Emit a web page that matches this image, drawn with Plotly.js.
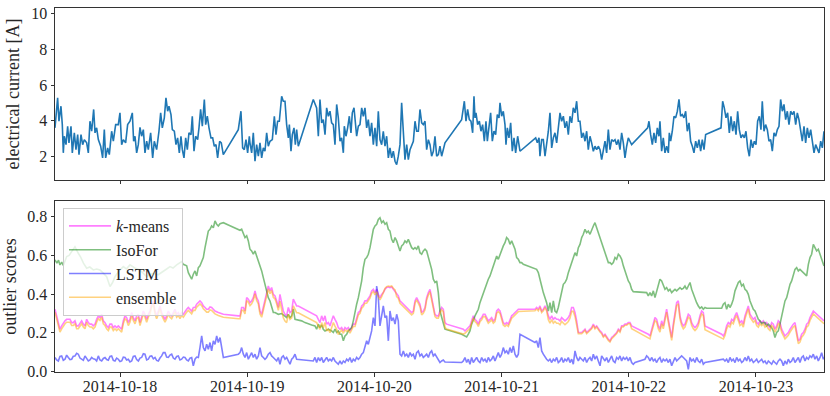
<!DOCTYPE html>
<html>
<head>
<meta charset="utf-8">
<script src="https://cdn.plot.ly/plotly-3.0.1.min.js"></script>
<style>
  html, body { margin: 0; padding: 0; background: #fff; }
  #unique_plot { width: 830px; height: 396px; }
</style>
</head>
<body>
<div id="unique_plot"></div>
<script>
/*
 * ~~~~~~~~~~~~~~~~~~~~~~~~~~~~~~~~~~~~~~~~~~~~~~~~
 * Data (times are hours after 2014-10-17 00:00)
 * ~~~~~~~~~~~~~~~~~~~~~~~~~~~~~~~~~~~~~~~~~~~~~~~~
 */

const currentHours = [
  11.73,12.23,12.48,12.86,13.11,13.30,13.49,13.81,14.12,14.37,
  14.75,15.00,15.38,15.69,16.01,16.26,16.64,16.95,17.26,17.71,
  18.02,18.33,18.65,19.03,19.28,19.59,19.91,20.35,20.72,21.04,
  21.29,21.67,21.98,22.42,22.74,23.18,23.68,23.99,24.31,24.62,
  25.06,25.44,25.88,26.32,26.57,26.83,27.14,27.45,27.77,28.08,
  28.40,28.71,29.03,29.34,29.78,30.16,30.47,30.91,31.35,31.67,
  31.98,32.36,32.67,32.99,33.24,33.62,33.87,34.25,34.56,34.87,
  35.19,35.50,35.76,36.07,36.39,36.70,37.01,37.39,37.64,37.96,
  38.27,38.65,38.90,39.21,39.53,39.91,40.16,40.47,40.79,41.16,
  41.48,41.79,42.11,42.42,42.80,43.11,43.49,46.32,46.82,47.14,
  47.45,47.77,48.08,48.40,48.52,48.84,49.15,49.47,49.78,50.10,
  50.41,50.73,51.04,51.35,51.67,51.98,52.30,52.74,53.12,53.43,
  53.74,54.06,54.50,54.81,55.13,55.44,55.76,55.95,56.26,56.51,
  56.83,57.08,57.33,57.64,60.47,61.10,61.42,61.73,62.05,62.36,
  62.68,62.99,63.31,63.62,63.93,64.25,64.56,64.88,65.19,65.51,
  65.82,66.14,66.32,66.64,66.95,67.27,67.58,67.83,68.15,68.34,
  68.65,68.97,69.28,69.60,69.91,70.22,70.54,70.85,71.17,71.48,
  71.80,72.11,72.43,72.74,73.05,73.37,73.68,74.00,74.31,74.63,
  74.94,75.26,75.57,75.89,76.20,76.51,76.83,77.14,77.46,77.77,
  78.09,78.40,78.72,79.03,79.35,79.66,79.97,80.29,80.60,80.92,
  81.23,81.55,81.86,82.18,82.49,82.80,83.12,83.43,83.75,84.06,
  84.37,84.69,85.00,85.32,88.46,88.78,88.97,89.28,89.59,89.91,
  90.22,90.54,90.79,90.98,91.17,91.48,91.80,92.11,92.42,92.74,
  93.05,93.31,93.62,93.93,94.25,94.56,94.88,95.19,95.51,95.70,
  96.01,96.32,96.64,96.83,97.08,97.39,97.71,98.02,98.34,98.65,
  99.03,99.47,102.43,102.74,103.06,103.24,103.56,103.87,104.19,104.50,
  104.82,105.13,105.45,105.76,106.07,106.39,106.70,107.02,107.33,107.65,
  107.96,108.28,108.59,108.90,109.22,109.53,109.85,110.16,110.48,110.79,
  111.11,111.42,111.74,112.05,112.36,112.68,112.99,113.31,113.62,113.94,
  114.25,114.57,114.88,115.20,115.51,115.82,116.14,116.45,116.77,117.08,
  117.40,117.71,118.03,118.34,118.65,118.97,119.28,119.60,119.91,120.22,
  120.54,123.56,123.81,124.12,124.44,124.75,125.07,125.38,125.70,125.88,
  126.20,126.51,126.83,127.14,127.46,127.65,127.90,128.21,128.53,128.84,
  129.16,129.47,129.78,130.10,130.41,130.73,131.04,131.36,131.67,131.99,
  132.30,132.62,132.93,133.24,133.56,133.87,134.19,134.50,137.40,137.71,
  138.02,138.34,138.65,138.97,139.28,139.60,139.91,140.23,140.54,140.85,
  141.17,141.48,141.80,142.11,142.43,142.74,143.06,143.37,143.69,144.00,
  144.31,144.63,144.94,145.19,145.51,145.82,146.14,146.45,146.77,147.08,
  147.40,147.71,148.03,148.34,148.65,148.97,149.28,149.60,149.91,150.23,
  150.54,150.86,151.17,151.49,151.80,152.11,152.43,152.74,153.06,153.37,
  153.69,154.00,154.32,154.63,154.95,155.26,155.58,155.89,156.21,156.52,
  156.83
];

const currentAmps = [
  3.61,5.29,3.98,4.82,3.79,2.21,3.14,2.67,3.70,2.77,
  3.70,2.21,3.33,2.39,3.23,2.11,3.23,2.67,2.95,2.77,
  2.21,3.98,3.42,4.64,3.33,3.61,2.95,2.58,1.93,3.51,
  1.93,2.49,2.11,3.42,2.86,3.79,3.79,4.45,2.67,2.95,
  2.77,3.79,3.98,4.45,2.86,3.14,2.21,2.67,3.64,3.14,
  3.51,2.21,2.86,2.39,3.33,1.93,2.86,2.39,3.42,4.45,
  3.61,4.17,5.29,4.54,4.82,4.35,3.51,3.42,2.67,3.05,
  2.21,3.14,2.39,1.93,3.05,2.39,3.33,3.23,4.26,2.30,
  3.14,2.95,3.61,4.64,3.70,5.20,3.79,4.26,3.61,3.05,
  3.05,2.58,2.67,1.93,2.86,2.77,2.11,3.51,4.54,2.49,
  2.39,2.95,2.21,3.14,2.77,2.21,3.33,1.74,2.67,2.02,
  2.77,1.93,2.49,2.30,3.33,2.58,2.86,2.95,4.26,3.23,
  3.98,3.98,5.38,5.10,5.10,3.79,3.05,3.79,2.30,3.23,
  3.61,2.67,3.51,2.58,5.20,4.73,3.14,5.20,3.89,4.07,
  3.23,4.73,4.26,4.54,3.89,3.79,2.67,4.92,4.17,2.86,
  3.05,2.21,3.70,3.14,3.61,4.26,3.33,4.45,4.73,4.26,
  3.14,3.70,3.79,4.73,4.26,4.73,3.61,4.07,3.14,3.89,
  2.67,3.61,2.58,4.54,2.95,2.67,3.42,2.58,3.14,1.93,
  2.49,1.93,2.30,1.74,1.55,2.02,2.67,5.01,3.05,1.83,
  2.67,1.83,2.39,2.67,2.86,3.98,3.42,3.42,4.64,3.89,
  3.79,3.98,2.39,2.95,2.67,2.02,2.30,3.14,2.02,2.11,
  2.58,2.02,2.39,2.77,4.07,4.73,5.10,3.98,4.64,4.07,
  3.98,3.33,5.38,4.17,4.45,3.79,3.98,3.42,3.79,2.86,
  3.98,2.86,3.51,4.45,2.86,3.42,3.23,4.35,4.17,5.01,
  4.26,4.54,3.79,2.67,3.61,3.05,3.89,2.30,3.05,2.21,
  3.14,2.30,3.05,2.77,3.05,2.02,2.95,2.95,2.02,2.58,
  3.42,4.45,2.49,3.05,3.33,2.77,3.51,4.45,3.98,4.26,
  3.61,3.98,3.23,4.26,3.89,4.73,4.45,5.10,3.98,3.98,
  3.05,3.33,2.86,3.42,2.39,3.14,2.77,2.30,2.58,2.39,
  2.58,2.39,1.83,2.49,2.86,2.21,3.51,2.39,2.95,2.86,
  2.95,2.67,2.95,2.39,3.33,2.77,1.93,2.58,3.05,2.86,
  2.67,3.61,3.98,3.23,2.67,3.33,2.77,3.61,3.14,3.98,
  2.30,3.05,2.21,2.58,2.21,3.33,2.86,3.42,4.26,4.17,
  4.54,5.20,4.26,4.35,4.17,4.54,3.42,3.89,2.86,2.58,
  2.21,2.86,2.49,2.95,2.30,2.95,2.39,3.23,3.61,5.10,
  4.73,4.17,4.45,3.33,4.26,3.42,3.98,3.23,4.54,3.51,
  3.05,3.23,3.05,3.42,2.49,2.02,2.95,2.49,2.86,2.67,
  3.98,4.26,3.51,5.10,3.42,3.79,3.51,2.86,2.95,2.30,
  3.33,3.14,3.51,3.70,5.20,4.54,4.92,4.07,4.54,3.79,
  4.54,4.35,4.54,3.79,4.45,4.07,3.33,2.86,3.70,2.77,
  3.61,3.05,3.51,2.77,2.21,2.67,2.39,2.21,2.86,2.49,
  3.42
];

const kmeansHours = [
  11.73,12.04,12.36,12.67,12.99,13.30,13.62,13.93,14.25,14.56,
  14.88,15.19,15.50,15.82,16.13,16.45,16.76,17.08,17.39,17.71,
  18.02,18.33,18.65,18.96,19.28,19.59,19.91,20.22,20.54,20.85,
  21.17,21.48,21.79,22.11,22.42,22.74,23.05,23.37,23.68,24.00,
  24.31,24.62,24.94,25.25,25.57,25.88,26.20,26.51,26.83,27.14,
  27.46,27.77,28.08,28.40,28.71,29.03,29.34,29.66,29.97,30.29,
  30.60,30.91,31.23,31.54,31.86,32.17,32.49,32.80,33.12,33.43,
  33.75,34.06,34.37,34.69,35.00,35.32,35.63,35.95,36.26,36.58,
  36.89,37.20,37.52,37.83,38.15,38.46,38.78,39.09,39.41,39.72,
  40.04,40.35,40.66,40.98,41.29,41.61,41.92,42.55,43.18,43.50,
  46.33,46.64,46.95,47.27,47.58,47.90,48.21,48.53,48.84,49.15,
  49.47,49.78,50.10,50.41,50.73,51.04,51.35,51.67,51.98,52.30,
  52.61,52.93,53.24,53.56,53.87,54.18,54.50,54.81,55.13,55.44,
  55.76,56.07,56.39,56.70,57.02,57.33,57.64,61.10,61.42,61.73,
  62.05,62.36,62.68,62.99,63.31,63.62,63.93,64.25,64.56,64.88,
  65.19,65.51,65.82,66.14,66.45,66.77,67.08,67.39,67.71,68.02,
  68.34,68.65,68.97,69.28,69.60,69.91,70.22,70.54,70.85,71.17,
  71.48,71.80,72.11,72.43,72.74,73.05,73.37,73.68,74.00,74.31,
  74.63,74.94,75.26,75.57,75.89,76.20,76.51,76.83,77.14,77.46,
  77.77,78.09,78.40,78.72,79.03,79.35,79.66,79.97,80.29,80.60,
  80.92,81.23,81.55,81.86,82.18,82.49,82.80,83.12,83.43,83.75,
  84.06,84.37,84.69,85.00,85.32,85.63,88.78,89.09,89.41,89.72,
  90.03,90.35,90.66,90.98,91.29,91.61,91.92,92.24,92.55,92.87,
  93.18,93.49,93.81,94.12,94.44,94.75,95.07,95.38,95.70,96.01,
  96.32,96.64,96.95,97.27,97.58,97.90,98.21,98.53,98.84,99.16,
  102.30,102.61,102.93,103.24,103.56,103.87,104.19,104.50,104.82,105.13,
  105.45,105.76,106.07,106.39,106.70,107.02,107.33,107.65,107.96,108.28,
  108.59,108.90,109.22,109.53,109.85,110.16,110.48,110.79,111.11,111.42,
  111.74,112.05,112.36,112.68,112.99,113.31,113.62,113.94,114.25,114.57,
  114.88,115.20,115.51,115.82,116.14,116.45,116.77,117.08,117.40,117.71,
  118.03,118.34,118.65,118.97,119.28,119.60,119.91,120.23,120.54,123.68,
  124.00,124.31,124.63,124.94,125.26,125.57,125.88,126.20,126.51,126.83,
  127.14,127.46,127.77,128.09,128.40,128.72,129.03,129.34,129.66,129.97,
  130.29,130.60,130.92,131.23,131.55,131.86,132.18,132.49,132.80,133.12,
  133.43,133.75,134.06,134.38,137.52,137.84,138.15,138.46,138.78,139.09,
  139.41,139.72,140.04,140.35,140.67,140.98,141.30,141.61,141.92,142.24,
  142.55,142.87,143.18,143.50,143.81,144.13,144.44,144.75,145.07,145.38,
  145.70,146.01,146.33,146.64,146.96,147.27,147.58,147.90,148.21,148.53,
  148.84,149.16,149.47,149.79,150.10,150.42,150.73,151.04,151.36,151.67,
  151.99,152.30,152.62,152.93,153.25,153.56,153.88,154.19,154.50,154.82,
  155.13,155.45,155.76,156.08,156.39,156.71,156.83
];

const kmeansScores = [
  0.322,0.288,0.245,0.219,0.236,0.253,0.262,0.270,0.270,0.270,
  0.253,0.253,0.262,0.236,0.236,0.253,0.262,0.245,0.236,0.270,
  0.253,0.245,0.245,0.236,0.245,0.270,0.288,0.279,0.296,0.262,
  0.253,0.236,0.227,0.245,0.245,0.227,0.236,0.227,0.236,0.227,
  0.219,0.262,0.288,0.279,0.253,0.270,0.305,0.279,0.262,0.288,
  0.296,0.253,0.279,0.313,0.296,0.270,0.296,0.313,0.348,0.365,
  0.313,0.288,0.313,0.339,0.305,0.288,0.270,0.288,0.313,0.296,
  0.288,0.305,0.322,0.296,0.305,0.288,0.305,0.296,0.313,0.322,
  0.331,0.322,0.313,0.331,0.331,0.348,0.356,0.365,0.356,0.339,
  0.331,0.322,0.322,0.334,0.331,0.322,0.313,0.305,0.300,0.296,
  0.288,0.288,0.331,0.331,0.313,0.382,0.374,0.356,0.365,0.382,
  0.417,0.382,0.365,0.313,0.296,0.331,0.365,0.417,0.442,0.417,
  0.434,0.399,0.391,0.365,0.331,0.399,0.348,0.313,0.296,0.288,
  0.331,0.305,0.313,0.374,0.356,0.339,0.339,0.288,0.270,0.253,
  0.288,0.262,0.288,0.245,0.253,0.236,0.262,0.288,0.270,0.253,
  0.227,0.219,0.227,0.210,0.227,0.219,0.227,0.210,0.227,0.245,
  0.245,0.270,0.305,0.313,0.339,0.348,0.365,0.365,0.382,0.391,
  0.417,0.425,0.408,0.425,0.399,0.382,0.399,0.408,0.425,0.434,
  0.437,0.434,0.437,0.425,0.417,0.399,0.391,0.365,0.356,0.348,
  0.339,0.331,0.322,0.313,0.305,0.313,0.365,0.382,0.365,0.348,
  0.305,0.313,0.331,0.382,0.408,0.425,0.382,0.331,0.296,0.288,
  0.288,0.313,0.331,0.322,0.253,0.245,0.219,0.210,0.219,0.227,
  0.236,0.262,0.288,0.270,0.262,0.245,0.270,0.279,0.296,0.296,
  0.279,0.262,0.270,0.279,0.262,0.270,0.313,0.322,0.313,0.288,
  0.253,0.245,0.253,0.245,0.262,0.288,0.296,0.305,0.313,0.322,
  0.322,0.331,0.322,0.339,0.313,0.322,0.339,0.322,0.288,0.270,
  0.288,0.270,0.279,0.270,0.270,0.262,0.279,0.270,0.262,0.270,
  0.279,0.296,0.331,0.331,0.305,0.262,0.202,0.202,0.202,0.210,
  0.219,0.202,0.210,0.219,0.227,0.245,0.227,0.236,0.219,0.210,
  0.202,0.184,0.193,0.176,0.167,0.159,0.176,0.184,0.193,0.202,
  0.219,0.210,0.236,0.236,0.245,0.245,0.253,0.253,0.236,0.193,
  0.184,0.219,0.253,0.279,0.270,0.236,0.219,0.262,0.236,0.288,
  0.322,0.270,0.219,0.176,0.245,0.296,0.356,0.365,0.288,0.253,
  0.236,0.245,0.270,0.296,0.288,0.253,0.236,0.227,0.236,0.253,
  0.288,0.313,0.305,0.236,0.193,0.184,0.202,0.236,0.253,0.245,
  0.270,0.262,0.288,0.305,0.279,0.253,0.262,0.245,0.288,0.313,
  0.339,0.296,0.279,0.270,0.279,0.253,0.245,0.262,0.253,0.262,
  0.245,0.253,0.236,0.227,0.253,0.245,0.219,0.236,0.262,0.253,
  0.219,0.202,0.184,0.193,0.202,0.219,0.236,0.245,0.253,0.202,
  0.159,0.167,0.193,0.202,0.219,0.245,0.253,0.279,0.296,0.313,
  0.305,0.296,0.288,0.279,0.270,0.262,0.262
];

// ensemble is sampled at the same times as k-means
const ensembleScores = [
  0.307,0.273,0.230,0.204,0.221,0.238,0.247,0.255,0.255,0.255,
  0.238,0.238,0.247,0.221,0.221,0.238,0.247,0.230,0.221,0.255,
  0.238,0.230,0.230,0.221,0.230,0.255,0.273,0.264,0.281,0.247,
  0.238,0.221,0.212,0.230,0.230,0.212,0.221,0.212,0.221,0.212,
  0.204,0.247,0.273,0.264,0.238,0.255,0.290,0.264,0.247,0.273,
  0.281,0.238,0.264,0.298,0.281,0.255,0.281,0.298,0.333,0.350,
  0.298,0.273,0.298,0.324,0.290,0.273,0.255,0.273,0.298,0.281,
  0.273,0.290,0.307,0.281,0.290,0.273,0.290,0.281,0.298,0.307,
  0.316,0.307,0.298,0.316,0.316,0.333,0.341,0.350,0.341,0.324,
  0.316,0.307,0.307,0.319,0.316,0.307,0.298,0.290,0.285,0.281,
  0.273,0.273,0.316,0.316,0.298,0.367,0.359,0.341,0.350,0.367,
  0.402,0.367,0.350,0.298,0.281,0.316,0.350,0.402,0.427,0.402,
  0.419,0.384,0.376,0.350,0.316,0.364,0.313,0.278,0.261,0.253,
  0.296,0.270,0.278,0.339,0.321,0.304,0.304,0.253,0.235,0.218,
  0.253,0.227,0.253,0.210,0.218,0.201,0.227,0.253,0.235,0.218,
  0.192,0.207,0.215,0.198,0.215,0.207,0.215,0.198,0.215,0.233,
  0.233,0.258,0.293,0.301,0.327,0.336,0.353,0.353,0.370,0.379,
  0.405,0.413,0.396,0.413,0.387,0.370,0.387,0.413,0.430,0.439,
  0.442,0.439,0.442,0.430,0.422,0.387,0.379,0.353,0.344,0.336,
  0.327,0.319,0.310,0.301,0.293,0.301,0.353,0.370,0.353,0.336,
  0.293,0.301,0.319,0.370,0.396,0.413,0.370,0.319,0.284,0.276,
  0.276,0.301,0.319,0.310,0.228,0.220,0.194,0.198,0.207,0.215,
  0.224,0.250,0.276,0.258,0.250,0.233,0.258,0.267,0.284,0.284,
  0.267,0.250,0.258,0.267,0.250,0.258,0.301,0.310,0.301,0.276,
  0.241,0.233,0.241,0.233,0.250,0.276,0.284,0.293,0.301,0.310,
  0.314,0.323,0.314,0.331,0.305,0.314,0.331,0.314,0.268,0.250,
  0.268,0.250,0.259,0.250,0.250,0.242,0.259,0.250,0.242,0.250,
  0.259,0.276,0.311,0.311,0.285,0.242,0.196,0.196,0.196,0.204,
  0.213,0.196,0.204,0.213,0.221,0.239,0.221,0.230,0.213,0.204,
  0.196,0.178,0.187,0.170,0.161,0.153,0.170,0.178,0.187,0.196,
  0.213,0.204,0.230,0.230,0.239,0.239,0.247,0.247,0.221,0.173,
  0.169,0.204,0.238,0.264,0.255,0.221,0.204,0.247,0.221,0.273,
  0.307,0.255,0.204,0.161,0.230,0.281,0.341,0.350,0.273,0.238,
  0.221,0.230,0.255,0.281,0.273,0.238,0.221,0.212,0.221,0.238,
  0.273,0.298,0.290,0.216,0.173,0.169,0.187,0.221,0.238,0.230,
  0.255,0.247,0.273,0.290,0.264,0.238,0.247,0.230,0.273,0.298,
  0.324,0.281,0.264,0.255,0.264,0.238,0.230,0.247,0.238,0.247,
  0.230,0.238,0.221,0.212,0.238,0.230,0.204,0.221,0.247,0.238,
  0.204,0.187,0.169,0.178,0.187,0.204,0.221,0.230,0.238,0.187,
  0.144,0.152,0.178,0.187,0.204,0.230,0.238,0.264,0.281,0.298,
  0.290,0.281,0.273,0.264,0.255,0.247,0.247
];

const isoforHours = [
  11.73,12.10,12.40,12.67,13.00,13.30,13.94,14.40,15.00,15.50,
  16.13,16.60,17.10,17.71,18.30,18.97,19.60,20.22,20.80,21.48,
  22.11,22.60,23.05,23.80,24.62,25.20,25.88,26.80,27.77,28.40,
  29.03,29.60,30.28,31.20,32.17,32.80,33.43,34.00,34.69,35.20,
  35.63,35.95,36.58,36.89,37.52,37.83,38.15,38.46,38.78,39.09,
  39.41,39.72,40.04,40.35,40.66,40.98,41.29,41.61,41.92,42.24,
  42.55,42.87,43.50,44.44,45.70,46.64,46.95,47.58,47.90,48.21,
  48.52,48.84,49.15,49.47,49.78,50.10,50.41,50.73,51.04,51.35,
  51.67,51.98,52.30,52.61,52.93,53.24,53.87,54.50,55.13,55.44,
  55.76,56.07,56.39,56.70,57.02,57.64,58.27,58.90,59.53,60.16,
  60.79,61.10,61.42,61.73,62.05,62.36,62.68,63.31,63.93,64.25,
  64.56,64.88,65.19,65.51,65.82,66.14,66.45,66.77,67.08,67.39,
  67.71,68.02,68.34,68.65,68.97,69.28,69.60,69.91,70.22,70.54,
  70.85,71.17,71.48,71.80,72.11,72.43,72.74,73.05,73.37,73.68,
  74.00,74.31,74.63,74.94,75.26,75.57,75.89,76.20,76.51,76.83,
  77.14,77.46,77.77,78.09,78.40,78.72,79.03,79.35,79.66,79.97,
  80.29,80.60,80.92,81.23,81.55,81.86,82.18,82.49,82.80,83.12,
  83.43,83.75,84.06,84.37,84.69,85.00,85.32,88.46,89.09,89.41,
  89.72,90.03,90.35,90.66,90.98,91.29,91.61,91.92,92.24,92.55,
  92.87,93.18,93.49,93.81,94.12,94.44,94.75,95.07,95.38,95.70,
  96.01,96.32,96.64,96.95,97.27,97.58,97.90,98.21,98.53,98.84,
  99.16,99.47,99.78,100.10,102.61,102.93,103.24,103.56,103.87,104.19,
  104.50,104.82,105.13,105.45,105.76,106.07,106.39,106.70,107.02,107.33,
  107.65,107.96,108.28,108.59,108.90,109.22,109.53,109.85,110.16,110.48,
  110.79,111.11,111.42,111.74,112.05,112.36,112.68,112.99,113.31,113.62,
  113.94,114.25,114.57,114.88,115.20,115.51,115.82,116.14,116.45,116.77,
  117.08,117.40,117.71,118.03,118.34,118.65,118.97,119.28,119.60,119.91,
  120.22,120.54,120.85,123.37,123.68,124.00,124.31,124.63,124.94,125.26,
  125.57,125.88,126.20,126.51,126.83,127.14,127.46,127.77,128.09,128.40,
  128.72,129.03,129.34,129.66,129.97,130.29,130.60,130.92,131.23,131.55,
  131.86,132.18,132.49,132.80,133.12,133.43,133.75,134.06,134.38,134.69,
  137.52,137.84,138.15,138.46,138.78,139.09,139.41,139.72,140.04,140.35,
  140.67,140.98,141.30,141.61,141.92,142.24,142.55,142.87,143.18,143.50,
  143.81,144.13,144.44,144.75,145.07,145.38,145.70,146.01,146.33,146.64,
  146.96,147.27,147.58,147.90,148.21,148.53,148.84,149.16,149.47,149.79,
  150.10,150.42,150.73,151.04,151.36,151.67,151.99,152.30,152.62,152.93,
  153.25,153.56,153.88,154.19,154.50,154.82,155.13,155.45,155.76,156.08,
  156.39,156.71,156.83
];

const isoforScores = [
  0.577,0.560,0.575,0.551,0.565,0.548,0.594,0.600,0.625,0.645,
  0.611,0.590,0.560,0.534,0.540,0.525,0.530,0.525,0.510,0.490,
  0.439,0.460,0.490,0.520,0.542,0.530,0.551,0.535,0.525,0.505,
  0.490,0.500,0.508,0.500,0.516,0.530,0.542,0.535,0.551,0.560,
  0.568,0.554,0.546,0.511,0.477,0.503,0.520,0.494,0.537,0.546,
  0.571,0.589,0.640,0.692,0.726,0.735,0.752,0.743,0.778,0.761,
  0.752,0.764,0.769,0.757,0.743,0.730,0.735,0.692,0.701,0.675,
  0.632,0.623,0.606,0.623,0.597,0.571,0.554,0.520,0.485,0.451,
  0.417,0.382,0.365,0.331,0.305,0.305,0.296,0.300,0.288,0.279,
  0.296,0.279,0.288,0.322,0.270,0.267,0.262,0.253,0.245,0.241,
  0.236,0.219,0.245,0.227,0.241,0.219,0.210,0.219,0.210,0.202,
  0.219,0.202,0.210,0.193,0.193,0.159,0.184,0.193,0.210,0.219,
  0.227,0.262,0.313,0.348,0.382,0.417,0.468,0.537,0.580,0.589,
  0.606,0.640,0.683,0.735,0.752,0.761,0.786,0.795,0.769,0.778,
  0.761,0.769,0.735,0.726,0.683,0.666,0.692,0.675,0.649,0.623,
  0.649,0.657,0.675,0.666,0.683,0.657,0.640,0.632,0.640,0.632,
  0.649,0.614,0.606,0.623,0.632,0.623,0.589,0.546,0.528,0.477,
  0.460,0.468,0.408,0.313,0.279,0.245,0.219,0.193,0.184,0.179,
  0.193,0.210,0.245,0.262,0.288,0.305,0.322,0.356,0.382,0.399,
  0.434,0.451,0.477,0.494,0.520,0.546,0.563,0.597,0.580,0.606,
  0.632,0.649,0.666,0.692,0.683,0.657,0.675,0.649,0.632,0.589,
  0.580,0.563,0.563,0.554,0.528,0.511,0.468,0.442,0.408,0.382,
  0.356,0.313,0.356,0.305,0.365,0.313,0.305,0.331,0.374,0.417,
  0.451,0.460,0.477,0.511,0.537,0.563,0.597,0.614,0.597,0.640,
  0.657,0.692,0.709,0.735,0.718,0.726,0.709,0.735,0.752,0.769,
  0.743,0.718,0.692,0.657,0.632,0.606,0.589,0.563,0.563,0.554,
  0.563,0.589,0.580,0.606,0.597,0.580,0.546,0.520,0.494,0.468,
  0.455,0.425,0.413,0.408,0.391,0.408,0.391,0.417,0.382,0.417,
  0.442,0.477,0.468,0.442,0.425,0.434,0.417,0.425,0.408,0.417,
  0.425,0.417,0.425,0.434,0.425,0.430,0.442,0.425,0.442,0.460,
  0.425,0.399,0.374,0.356,0.339,0.327,0.334,0.322,0.331,0.327,
  0.327,0.348,0.356,0.322,0.348,0.331,0.348,0.374,0.417,0.442,
  0.460,0.468,0.442,0.451,0.425,0.417,0.399,0.365,0.339,0.322,
  0.313,0.288,0.270,0.262,0.248,0.253,0.253,0.236,0.245,0.236,
  0.227,0.210,0.176,0.202,0.210,0.245,0.288,0.331,0.365,0.382,
  0.425,0.451,0.468,0.503,0.528,0.537,0.520,0.528,0.520,0.511,
  0.503,0.494,0.554,0.589,0.606,0.657,0.640,0.623,0.632,0.606,
  0.589,0.554,0.545
];

const lstmHours = [
  11.73,12.04,12.36,12.67,12.99,13.30,13.62,13.93,14.25,14.56,
  14.88,15.19,15.50,15.82,16.13,16.45,16.76,17.08,17.39,17.71,
  18.02,18.33,18.65,18.96,19.28,19.59,19.91,20.22,20.54,20.85,
  21.17,21.48,21.79,22.11,22.42,22.74,23.05,23.37,23.68,24.00,
  24.31,24.62,24.94,25.25,25.57,25.88,26.20,26.51,26.83,27.14,
  27.46,27.77,28.08,28.40,28.71,29.03,29.34,29.66,29.97,30.29,
  30.60,30.91,31.23,31.54,31.86,32.17,32.49,32.80,33.12,33.43,
  33.75,34.06,34.37,34.69,35.00,35.32,35.63,35.95,36.26,36.58,
  36.89,37.20,37.52,37.83,38.15,38.46,38.78,39.09,39.41,39.72,
  40.04,40.35,40.66,40.98,41.29,41.61,41.92,42.24,42.55,42.87,
  43.18,43.50,46.33,46.64,46.95,47.27,47.58,47.90,48.21,48.53,
  48.84,49.15,49.47,49.78,50.10,50.41,50.73,51.04,51.35,51.67,
  51.98,52.30,52.61,52.93,53.24,53.56,53.87,54.18,54.50,54.81,
  55.13,55.44,55.76,56.07,56.39,56.70,57.02,57.33,60.47,60.79,
  61.10,61.42,61.73,62.05,62.36,62.68,62.99,63.31,63.62,63.93,
  64.25,64.56,64.88,65.19,65.51,65.82,66.14,66.45,66.77,67.08,
  67.39,67.71,68.02,68.34,68.65,68.97,69.28,69.60,69.91,70.22,
  70.54,70.85,71.17,71.48,71.80,72.11,72.43,72.74,73.05,73.37,
  73.68,74.00,74.31,74.63,74.94,75.26,75.57,75.89,76.20,76.51,
  76.83,77.14,77.46,77.77,78.09,78.40,78.72,79.03,79.35,79.66,
  79.97,80.29,80.60,80.92,81.23,81.55,81.86,82.18,82.49,82.80,
  83.12,83.43,83.75,84.06,84.37,84.69,85.00,85.32,88.46,88.78,
  89.09,89.41,89.72,90.03,90.35,90.66,90.98,91.29,91.61,91.92,
  92.24,92.55,92.87,93.18,93.49,93.81,94.12,94.44,94.75,95.07,
  95.38,95.70,96.01,96.32,96.64,96.95,97.27,97.58,97.90,98.21,
  98.53,98.84,99.16,99.47,102.30,102.61,102.93,103.24,103.56,103.87,
  104.19,104.50,104.82,105.13,105.45,105.76,106.07,106.39,106.70,107.02,
  107.33,107.65,107.96,108.28,108.59,108.90,109.22,109.53,109.85,110.16,
  110.48,110.79,111.11,111.42,111.74,112.05,112.36,112.68,112.99,113.31,
  113.62,113.94,114.25,114.57,114.88,115.20,115.51,115.82,116.14,116.45,
  116.77,117.08,117.40,117.71,118.03,118.34,118.65,118.97,119.28,119.60,
  119.91,120.23,120.54,120.85,121.17,123.05,123.37,123.68,124.00,124.31,
  124.63,124.94,125.26,125.57,125.88,126.20,126.51,126.83,127.14,127.46,
  127.77,128.09,128.40,128.72,129.03,129.34,129.66,129.97,130.29,130.60,
  130.92,131.23,131.55,131.86,132.18,132.49,132.80,133.12,133.43,133.75,
  134.06,134.38,137.52,137.84,138.15,138.46,138.78,139.09,139.41,139.72,
  140.04,140.35,140.67,140.98,141.30,141.61,141.92,142.24,142.55,142.87,
  143.18,143.50,143.81,144.13,144.44,144.75,145.07,145.38,145.70,146.01,
  146.33,146.64,146.96,147.27,147.58,147.90,148.21,148.53,148.84,149.16,
  149.47,149.79,150.10,150.42,150.73,151.04,151.36,151.67,151.99,152.30,
  152.62,152.93,153.25,153.56,153.88,154.19,154.50,154.82,155.13,155.45,
  155.76,156.08,156.39,156.71,156.83
];

const lstmScores = [
  0.073,0.060,0.055,0.078,0.081,0.058,0.064,0.085,0.073,0.062,
  0.064,0.080,0.081,0.095,0.090,0.070,0.064,0.058,0.081,0.070,
  0.055,0.060,0.073,0.066,0.064,0.055,0.081,0.060,0.055,0.068,
  0.073,0.062,0.059,0.078,0.081,0.058,0.055,0.070,0.064,0.052,
  0.055,0.075,0.073,0.060,0.064,0.050,0.055,0.078,0.081,0.062,
  0.055,0.070,0.073,0.092,0.090,0.060,0.064,0.080,0.081,0.066,
  0.073,0.058,0.055,0.070,0.081,0.098,0.098,0.075,0.073,0.085,
  0.090,0.070,0.064,0.078,0.081,0.060,0.064,0.075,0.073,0.060,
  0.055,0.070,0.073,0.030,0.064,0.075,0.073,0.124,0.184,0.124,
  0.107,0.141,0.115,0.150,0.107,0.159,0.141,0.184,0.150,0.176,
  0.124,0.073,0.090,0.098,0.124,0.090,0.073,0.098,0.064,0.081,
  0.098,0.073,0.090,0.064,0.081,0.124,0.081,0.073,0.064,0.073,
  0.090,0.098,0.081,0.073,0.064,0.055,0.073,0.038,0.073,0.081,
  0.064,0.073,0.055,0.038,0.064,0.073,0.090,0.064,0.055,0.073,
  0.047,0.073,0.055,0.073,0.047,0.064,0.073,0.055,0.064,0.055,
  0.073,0.055,0.047,0.038,0.055,0.038,0.055,0.047,0.064,0.055,
  0.073,0.047,0.064,0.055,0.073,0.064,0.073,0.090,0.098,0.124,
  0.159,0.141,0.184,0.210,0.279,0.236,0.442,0.382,0.236,0.279,
  0.339,0.279,0.288,0.159,0.313,0.262,0.279,0.245,0.296,0.262,
  0.090,0.081,0.107,0.081,0.090,0.073,0.098,0.081,0.090,0.064,
  0.098,0.107,0.081,0.090,0.073,0.081,0.090,0.073,0.098,0.107,
  0.081,0.090,0.073,0.064,0.047,0.055,0.060,0.050,0.047,0.055,
  0.073,0.047,0.064,0.038,0.073,0.047,0.064,0.073,0.055,0.047,
  0.073,0.055,0.064,0.047,0.073,0.055,0.064,0.081,0.055,0.073,
  0.098,0.073,0.090,0.124,0.098,0.107,0.090,0.124,0.098,0.133,
  0.090,0.073,0.090,0.193,0.150,0.159,0.124,0.176,0.107,0.090,
  0.073,0.064,0.055,0.064,0.047,0.064,0.055,0.073,0.047,0.055,
  0.073,0.047,0.064,0.055,0.073,0.047,0.064,0.038,0.107,0.073,
  0.055,0.073,0.064,0.055,0.073,0.047,0.064,0.073,0.055,0.090,
  0.064,0.081,0.055,0.030,0.081,0.064,0.055,0.073,0.047,0.064,
  0.081,0.055,0.047,0.073,0.064,0.081,0.055,0.073,0.064,0.073,
  0.055,0.073,0.047,0.038,0.047,0.064,0.081,0.073,0.055,0.073,
  0.055,0.064,0.047,0.064,0.073,0.047,0.064,0.055,0.064,0.047,
  0.064,0.030,0.055,0.073,0.055,0.064,0.073,0.081,0.073,0.064,
  0.055,0.012,0.073,0.055,0.064,0.047,0.073,0.055,0.047,0.064,
  0.038,0.047,0.059,0.064,0.055,0.064,0.047,0.073,0.055,0.064,
  0.047,0.073,0.055,0.064,0.047,0.055,0.073,0.055,0.081,0.055,
  0.064,0.047,0.055,0.064,0.047,0.055,0.064,0.047,0.055,0.038,
  0.055,0.047,0.038,0.055,0.047,0.038,0.055,0.064,0.055,0.030,
  0.055,0.038,0.064,0.047,0.055,0.073,0.047,0.064,0.073,0.047,
  0.073,0.081,0.055,0.073,0.064,0.081,0.073,0.090,0.064,0.081,
  0.055,0.073,0.098,0.064,0.075
];

const dayTicks = ['2014-10-18', '2014-10-19', '2014-10-20', '2014-10-21', '2014-10-22', '2014-10-23'];
const currentTicks = [2, 4, 6, 8, 10];
const scoreTicks = [0, 0.2, 0.4, 0.6, 0.8];

/*
 * ~~~~~~~~~~~~~~~~~~~~~~~~~~~~~~~~~~~~~~~~~~~~~~~~
 * Tools
 * ~~~~~~~~~~~~~~~~~~~~~~~~~~~~~~~~~~~~~~~~~~~~~~~~
 */

const BASE = Date.UTC(2014, 9, 17);

const toDate = h => new Date(BASE + Math.round(h * 3600e3)).toISOString().replace('T', ' ').slice(0, 19);

const X_RANGE = ['2014-10-17 11:44:00', '2014-10-23 12:50:00'];
const AXIS_COLOR = '#333333';

const scoreCurve = (name, hours, scores, color) => ({
  type: 'scatter',
  mode: 'lines',
  name: name,
  x: hours.map(toDate),
  y: scores,
  xaxis: 'x2',
  yaxis: 'y2',
  line: {color: color, width: 1.6},
  hoverinfo: 'skip',
});

const baseAxis = () => ({
  showline: true,
  mirror: true,
  linecolor: AXIS_COLOR,
  linewidth: 1,
  ticks: 'outside',
  ticklen: 3.5,
  tickwidth: 1,
  tickcolor: AXIS_COLOR,
  showgrid: false,
  zeroline: false,
});

/*
 * ~~~~~~~~~~~~~~~~~~~~~~~~~~~~~~~~~~~~~~~~~~~~~~~~
 * Plot
 * ~~~~~~~~~~~~~~~~~~~~~~~~~~~~~~~~~~~~~~~~~~~~~~~~
 */

const makePlot = () => {
  const div = document.getElementById('unique_plot');

  const data = [
    {
      type: 'scatter',
      mode: 'lines',
      x: currentHours.map(toDate),
      y: currentAmps,
      xaxis: 'x',
      yaxis: 'y',
      showlegend: false,
      line: {color: '#1f77b4', width: 1.6},
      hoverinfo: 'skip',
    },
    scoreCurve('<i>k</i>-means', kmeansHours, kmeansScores, 'rgba(255,0,255,0.5)'),
    scoreCurve('IsoFor', isoforHours, isoforScores, 'rgba(0,128,0,0.5)'),
    scoreCurve('LSTM', lstmHours, lstmScores, 'rgba(0,0,255,0.5)'),
    scoreCurve('ensemble', kmeansHours, ensembleScores, 'rgba(255,165,0,0.5)'),
  ];

  const layout = {
    width: 830,
    height: 396,
    margin: {l: 55, r: 6, t: 8, b: 24},
    paper_bgcolor: '#ffffff',
    plot_bgcolor: '#ffffff',
    font: {family: 'Liberation Serif, DejaVu Serif, serif', size: 16, color: '#262626'},
    xaxis: {
      ...baseAxis(),
      type: 'date',
      domain: [0, 1],
      anchor: 'y',
      range: X_RANGE,
      tickvals: dayTicks,
      showticklabels: false,
    },
    yaxis: {
      ...baseAxis(),
      domain: [0.5275, 1],
      anchor: 'x',
      range: [0.69, 10.32],
      tickvals: currentTicks,
      title: {text: 'electrical current [A]', standoff: 6, font: {size: 18}},
    },
    xaxis2: {
      ...baseAxis(),
      type: 'date',
      domain: [0, 1],
      anchor: 'y2',
      range: X_RANGE,
      tickvals: dayTicks,
      ticktext: dayTicks,
      ticklabelstandoff: -4,
    },
    yaxis2: {
      ...baseAxis(),
      domain: [0, 0.4698],
      anchor: 'x2',
      range: [-0.002, 0.881],
      tickvals: scoreTicks,
      tickformat: '.1f',
      title: {text: 'outlier scores', standoff: 6, font: {size: 18}},
    },
    legend: {
      x: 0.0104,
      y: 0.4505,
      xanchor: 'left',
      yanchor: 'top',
      bgcolor: 'rgba(255,255,255,0.8)',
      bordercolor: '#cccccc',
      borderwidth: 1,
      itemwidth: 42,
      font: {size: 16},
    },
  };

  Plotly.newPlot(div, data, layout, {displayModeBar: false, staticPlot: true});
};

makePlot();
</script>
</body>
</html>
